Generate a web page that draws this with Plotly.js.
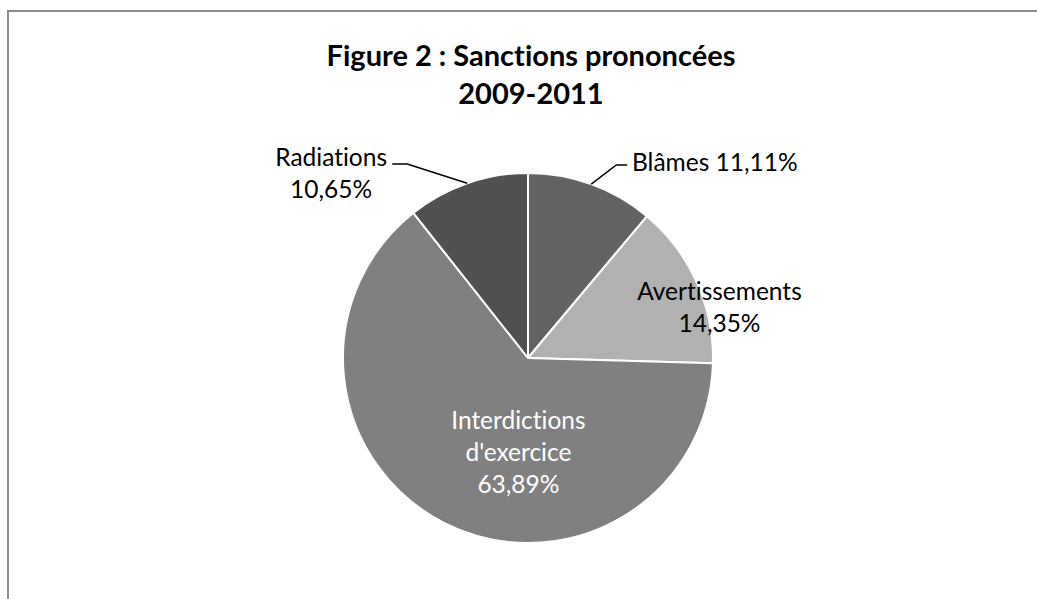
<!DOCTYPE html>
<html>
<head>
<meta charset="utf-8">
<script src="https://cdn.plot.ly/plotly-3.0.1.min.js"></script>
<style>
  html, body { margin: 0; padding: 0; background: #fff; overflow: hidden; }
  #chart { position: absolute; left: 0; top: 0; width: 1037px; height: 599px; }
  #chart text { font-variant-ligatures: none; font-feature-settings: "liga" 0, "clig" 0; }
  #frame { position: absolute; left: 7px; top: 10px; width: 1100px; height: 700px;
           border: 2px solid #8c8c8c; pointer-events: none; box-sizing: border-box; }
</style>
</head>
<body>
<div id="chart"></div>
<div id="frame"></div>
<script>
// ---- data ----
const categories = ["Blâmes", "Avertissements", "Interdictions d'exercice", "Radiations"];
const values = [11.11, 14.35, 63.89, 10.65];
const valueLabels = ["11,11%", "14,35%", "63,89%", "10,65%"];
const titleText = "Figure 2 : Sanctions prononcées<br>2009-2011";

// ---- styling / layout constants ----
const W = 1037, H = 599;
const CX = 528, CY = 358, R = 185;
const colors = ["#636363", "#b1b1b1", "#808080", "#515151"];
const FONT = "Lato, 'Open Sans', sans-serif";
const px = x => x / W;
const py = y => 1 - y / H;

// mid-angle (clockwise from 12 o'clock) of each slice, computed from data
const total = values.reduce((a, b) => a + b, 0);
let cum = 0;
const midAngles = values.map(v => { const m = (cum + v / 2) / total * 2 * Math.PI; cum += v; return m; });
const edgePoint = i => [CX + R * Math.sin(midAngles[i]), CY - R * Math.cos(midAngles[i])];

const trace = {
  type: "pie",
  labels: categories,
  values: values,
  sort: false,
  direction: "clockwise",
  rotation: 0,
  textinfo: "none",
  hoverinfo: "label+percent",
  marker: { colors: colors, line: { color: "#ffffff", width: 2 } },
  domain: { x: [px(CX - R), px(CX + R)], y: [py(CY + R), py(CY - R)] },
  showlegend: false
};

// leader lines for the two outside labels
const eB = edgePoint(0), eR = edgePoint(3);
const shapes = [
  { type: "path", xref: "paper", yref: "paper",
    path: `M ${px(eB[0])} ${py(eB[1])} L ${px(eB[0] + 25)} ${py(165)} L ${px(eB[0] + 36)} ${py(165)}`,
    line: { color: "#000", width: 1.5 } },
  { type: "path", xref: "paper", yref: "paper",
    path: `M ${px(eR[0])} ${py(eR[1])} L ${px(eR[0] - 60)} ${py(164)} L ${px(eR[0] - 75)} ${py(164)}`,
    line: { color: "#000", width: 1.5 } }
];

const LF = 24.5;
const annotations = [
  { text: categories[0] + " " + valueLabels[0], x: px(eB[0] + 39), y: py(161),
    xanchor: "left", yanchor: "middle" },
  { text: categories[3] + "<br>" + valueLabels[3], x: px(331), y: py(173),
    xanchor: "center", yanchor: "middle" },
  { text: categories[1] + "<br>" + valueLabels[1], x: px(719), y: py(306),
    xanchor: "center", yanchor: "middle" },
  { text: "Interdictions<br>d'exercice<br>" + valueLabels[2], x: px(518), y: py(451),
    xanchor: "center", yanchor: "middle", font: { family: FONT, size: LF, color: "#ffffff" } }
].map(a => Object.assign({ xref: "paper", yref: "paper", showarrow: false,
  font: { family: FONT, size: LF, color: "#000000" } }, a));

const layout = {
  width: W, height: H,
  margin: { l: 0, r: 0, t: 0, b: 0 },
  paper_bgcolor: "#ffffff",
  title: { text: titleText, x: px(531), xanchor: "center", xref: "paper",
           y: py(66), yanchor: "top", yref: "container",
           font: { family: FONT, size: 29, color: "#000", weight: "bold" } },
  shapes: shapes,
  annotations: annotations
};

Plotly.newPlot("chart", [trace], layout, { displayModeBar: false, staticPlot: true });
</script>
</body>
</html>
